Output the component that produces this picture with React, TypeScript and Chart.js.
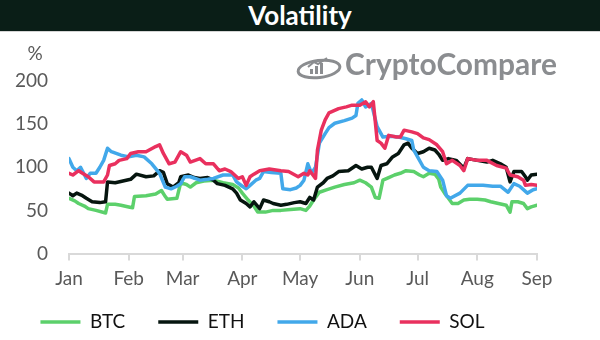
import React, { useEffect, useRef } from "react";
import { Chart, registerables } from "chart.js";

Chart.register(...registerables);

// ---- Data ----
const monthLabels = ["Jan", "Feb", "Mar", "Apr", "May", "Jun", "Jul", "Aug", "Sep"];
const monthStartDays = [0, 31, 59, 90, 120, 151, 181, 212, 243];
const yTicks = [0, 50, 100, 150, 200];
const seriesNames = ["BTC", "ETH", "ADA", "SOL"];
const seriesColors = ["#5cd06b", "#06150f", "#42a8ea", "#e9305e"];

const btcDays = [0, 3, 5, 8, 10, 14, 19, 20, 24, 27, 31, 33, 34, 40, 45, 48, 50, 51, 56, 58, 61, 63, 66, 70, 75, 80, 85, 88, 90, 93, 96, 98, 102, 106, 110, 115, 120, 123, 125, 127, 130, 134, 138, 143, 148, 151, 154, 157, 159, 161, 163, 166, 169, 172, 175, 179, 182, 184, 187, 190, 192, 193, 195, 197, 199, 202, 205, 208, 212, 216, 219, 223, 227, 229, 230, 233, 236, 238, 240, 243];
const btcValues = [64, 61, 58, 55, 52, 50, 47, 57, 57, 56, 54, 53, 66, 67, 69, 73, 66, 63, 64, 82, 80, 77, 82, 84, 85, 82, 80, 76, 70, 62, 55, 48, 48, 50, 50, 51, 52, 50, 55, 62, 71, 74, 77, 80, 82, 85, 82, 77, 65, 64, 85, 88, 91, 93, 96, 95, 91, 89, 93, 92, 86, 77, 70, 64, 58, 58, 62, 63, 63, 62, 60, 58, 56, 48, 60, 60, 58, 52, 54, 56];

const ethDays = [0, 2, 4, 7, 9, 12, 16, 19, 20, 24, 28, 32, 35, 40, 44, 47, 49, 51, 54, 57, 58, 62, 65, 68, 72, 75, 77, 81, 85, 87, 89, 92, 94, 96, 99, 101, 104, 106, 110, 113, 117, 120, 123, 125, 127, 129, 132, 134, 137, 140, 145, 149, 152, 155, 157, 160, 162, 165, 168, 171, 174, 176, 178, 181, 184, 187, 190, 192, 194, 197, 201, 205, 207, 212, 217, 220, 224, 227, 229, 231, 235, 237, 238, 240, 243];
const ethValues = [70, 67, 70, 67, 64, 60, 59, 60, 83, 82, 84, 86, 92, 89, 90, 96, 94, 81, 77, 82, 89, 91, 88, 87, 88, 85, 81, 79, 75, 70, 62, 58, 54, 60, 52, 62, 60, 58, 56, 57, 59, 60, 58, 65, 62, 77, 82, 87, 90, 95, 96, 102, 98, 100, 100, 87, 102, 104, 112, 116, 126, 128, 122, 116, 118, 122, 120, 115, 108, 110, 108, 99, 110, 108, 106, 108, 104, 100, 83, 95, 95, 89, 85, 91, 92];

const adaDays = [0, 2, 4, 6, 9, 11, 14, 16, 18, 20, 22, 27, 31, 35, 39, 43, 47, 50, 53, 56, 58, 60, 63, 68, 72, 75, 80, 85, 87, 90, 92, 94, 97, 99, 101, 105, 110, 111, 115, 118, 120, 122, 124, 126, 128, 130, 133, 135, 138, 143, 147, 149, 150, 152, 154, 157, 160, 163, 167, 171, 175, 178, 179, 181, 184, 187, 191, 194, 196, 198, 203, 207, 211, 215, 220, 224, 228, 231, 234, 238, 241, 243];
const adaValues = [110, 100, 96, 100, 87, 93, 93, 100, 108, 122, 118, 114, 112, 114, 112, 104, 93, 77, 75, 78, 81, 89, 89, 85, 86, 87, 91, 91, 83, 78, 75, 79, 85, 87, 95, 94, 93, 75, 74, 76, 79, 85, 104, 93, 100, 128, 139, 146, 151, 154, 157, 160, 174, 178, 170, 174, 147, 135, 136, 135, 133, 131, 120, 112, 100, 96, 95, 85, 67, 64, 70, 79, 79, 79, 78, 78, 71, 81, 78, 70, 74, 75];

const solDays = [0, 2, 5, 7, 10, 13, 18, 20, 21, 24, 26, 30, 32, 36, 40, 45, 47, 49, 52, 55, 58, 61, 63, 68, 71, 75, 78, 81, 84, 88, 90, 92, 94, 96, 99, 104, 110, 114, 119, 122, 124, 125, 128, 129, 131, 133, 135, 140, 144, 147, 151, 154, 156, 158, 160, 162, 164, 166, 170, 172, 174, 178, 181, 184, 187, 191, 194, 196, 199, 203, 205, 207, 212, 217, 222, 227, 229, 233, 236, 237, 240, 243];
const solValues = [93, 91, 96, 93, 89, 83, 83, 91, 102, 104, 108, 110, 116, 118, 118, 124, 126, 116, 104, 106, 118, 114, 106, 110, 104, 104, 96, 98, 95, 87, 89, 79, 89, 92, 96, 98, 96, 95, 89, 93, 91, 96, 87, 120, 143, 155, 163, 168, 170, 172, 172, 176, 170, 176, 131, 128, 122, 137, 135, 135, 143, 141, 139, 134, 132, 126, 118, 104, 108, 102, 96, 110, 108, 108, 102, 99, 91, 89, 85, 79, 80, 79];

const seriesDays = [btcDays, ethDays, adaDays, solDays];
const seriesValues = [btcValues, ethValues, adaValues, solValues];

const FONT = "Lato";
const AXIS_COLOR = "#595959";

const percentPlugin = {
  id: "percentLabel",
  afterDraw(chart: any) {
    const { ctx } = chart;
    const y = chart.scales.y;
    ctx.save();
    ctx.fillStyle = AXIS_COLOR;
    ctx.font = `19px ${FONT}`;
    ctx.textAlign = "center";
    ctx.textBaseline = "middle";
    ctx.fillText("%", y.left + 35, y.top - 27);
    ctx.restore();
  },
};

// moves the legend up into the space below the month labels
const legendShiftPlugin = {
  id: "legendShift",
  afterLayout(chart: any) {
    const l = chart.legend;
    if (!l) return;
    l.top -= 22;
    l.bottom -= 22;
    l.left -= 6;
    l.right -= 6;
  },
};

const watermarkPlugin = {
  id: "watermark",
  beforeDatasetsDraw(chart: any) {
    const { ctx } = chart;
    const color = "#8b8d90";
    ctx.save();
    ctx.strokeStyle = color;
    ctx.fillStyle = color;
    ctx.lineWidth = 3;
    ctx.beginPath();
    ctx.ellipse(319, 37, 21, 8.5, -0.12, 0, Math.PI * 2);
    ctx.stroke();
    ctx.fillRect(310, 37, 3, 5);
    ctx.fillRect(315, 34, 3, 8);
    ctx.fillRect(320, 31, 3, 11);
    ctx.lineWidth = 2;
    ctx.beginPath();
    ctx.moveTo(308, 35);
    ctx.lineTo(314, 30);
    ctx.lineTo(318, 32);
    ctx.lineTo(327, 26);
    ctx.stroke();
    const text = "CryptoCompare";
    let size = 26;
    ctx.font = `bold ${size}px ${FONT}`;
    const w = ctx.measureText(text).width;
    size = (size * 212) / w;
    ctx.font = `bold ${size}px ${FONT}`;
    ctx.textBaseline = "alphabetic";
    ctx.textAlign = "left";
    ctx.fillText(text, 345, 43);
    ctx.restore();
  },
};

export default function App() {
  const canvasRef = useRef<HTMLCanvasElement | null>(null);

  useEffect(() => {
    document.body.style.margin = "0";
    const canvas = canvasRef.current;
    if (!canvas) return;
    const datasets = seriesNames.map((name, i) => ({
      label: name,
      data: seriesDays[i].map((d, j) => ({ x: d, y: seriesValues[i][j] })),
      borderColor: seriesColors[i],
      backgroundColor: seriesColors[i],
      borderWidth: 3.5,
      pointRadius: 0,
      tension: 0,
      order: seriesNames.length - i,
      borderCapStyle: "round" as const,
      borderJoinStyle: "round" as const,
    }));
    const chart = new Chart(canvas, {
      type: "line",
      data: { datasets },
      options: {
        animation: false,
        responsive: false,
        maintainAspectRatio: false,
        layout: { padding: { left: 0, right: 63, top: 49, bottom: -23.5 } },
        plugins: {
          title: { display: false },
          tooltip: { enabled: false },
          legend: {
            display: true,
            position: "bottom",
            labels: {
              usePointStyle: true,
              pointStyle: "line",
              pointStyleWidth: 40,
              padding: 33,
              color: "#111111",
              font: { family: FONT, size: 19 },
              sort: (a: any, b: any) => a.datasetIndex - b.datasetIndex,
            },
          },
        },
        scales: {
          x: {
            type: "linear",
            min: 0,
            max: 243,
            afterBuildTicks: (s: any) => {
              s.ticks = monthStartDays.map((v) => ({ value: v }));
            },
            afterFit: (s: any) => {
              s.height = 48;
            },
            ticks: {
              autoSkip: false,
              maxRotation: 0,
              padding: 7,
              color: AXIS_COLOR,
              font: { family: FONT, size: 19 },
              callback: (_v: any, i: number) => monthLabels[i],
            },
            grid: {
              drawOnChartArea: false,
              drawTicks: true,
              tickLength: 7,
              color: "#d9d9d9",
              lineWidth: 2,
            },
            border: { display: true, color: "#d9d9d9", width: 2 },
          },
          y: {
            min: 0,
            max: 200,
            afterBuildTicks: (s: any) => {
              s.ticks = yTicks.map((v) => ({ value: v }));
            },
            afterFit: (s: any) => {
              s.width = 69;
            },
            ticks: {
              padding: 21,
              color: AXIS_COLOR,
              font: { family: FONT, size: 19 },
            },
            grid: { display: false, drawTicks: false },
            border: { display: false },
          },
        },
      },
      plugins: [watermarkPlugin, percentPlugin, legendShiftPlugin],
    });
    return () => chart.destroy();
  }, []);

  return (
    <div style={{ width: 600, height: 340, background: "#ffffff", position: "relative" }}>
      <div
        style={{
          height: 31,
          background: "#0a1e17",
          color: "#ffffff",
          fontFamily: FONT,
          fontWeight: 700,
          fontSize: 26,
          lineHeight: "31px",
          textAlign: "center",
        }}
      >
        Volatility
      </div>
      <div style={{ height: 1, background: "#d4d4d4" }} />
      <canvas ref={canvasRef} width={600} height={308} style={{ display: "block" }} />
    </div>
  );
}
